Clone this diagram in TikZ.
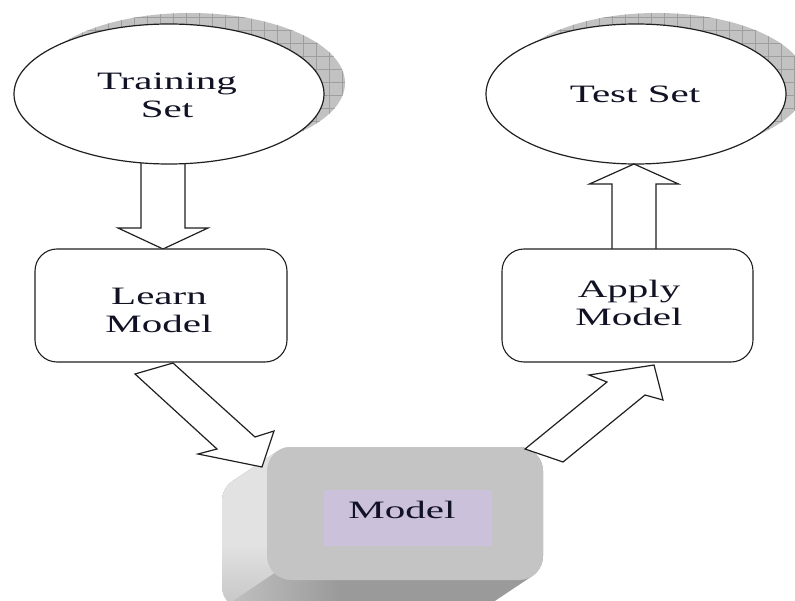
\documentclass[tikz,border=0pt]{standalone}
\usepackage{fontspec}
\setmainfont{Liberation Serif}
\usetikzlibrary{calc,shapes.geometric}
\definecolor{shadowc}{HTML}{C2C2C2}
\definecolor{gridc}{HTML}{9E9E9E}
\definecolor{frontc}{HTML}{C4C4C4}
\definecolor{sidec}{HTML}{E2E2E2}
\definecolor{bottomc}{HTML}{9A9A9A}
\definecolor{innerc}{HTML}{CBC1DA}
\definecolor{txtc}{HTML}{121225}
\definecolor{linec}{HTML}{202020}
\tikzset{
  lbl/.style={font=\fontsize{25}{28}\selectfont, text=txtc, xscale=1.64, align=center, inner sep=0pt},
  setell/.style={ellipse, draw=linec, line width=1.2pt, fill=white, inner sep=0pt},
  rbox/.style={rectangle, rounded corners=22pt, draw=linec, line width=1.1pt, fill=white, inner sep=0pt},
  barrow/.style={draw=linec, line width=1.2pt, fill=white, line join=miter},
  shadowgrid/.style={gridc, line width=0.5pt}
}
\newcommand\blockarrow[5]{%
  \coordinate (ba-h) at ($(#2)!#5!(#1)$);
  \draw[barrow] ($(#1)!#3!90:(#2)$) -- ($(ba-h)!#3!90:(#2)$) -- ($(ba-h)!#4!90:(#2)$)
    -- (#2) -- ($(ba-h)!#4!-90:(#2)$) -- ($(ba-h)!#3!-90:(#2)$) -- ($(#1)!#3!-90:(#2)$) -- cycle;}
\begin{document}
\begin{tikzpicture}[x=1pt,y=-1pt]
\useasboundingbox (0,0) rectangle (795,601);
\clip (0,0) rectangle (795,601);

% hatched shadows of the two ellipses
\begin{scope}
  \clip (190,83) ellipse [x radius=155, y radius=70];
  \fill[shadowc] (0,0) rectangle (400,200);
  \foreach \x in {4,17,...,400} \draw[shadowgrid] (\x,0) -- (\x,200);
  \foreach \y in {4,17,...,200} \draw[shadowgrid] (0,\y) -- (400,\y);
\end{scope}
\begin{scope}
  \clip (657,83) ellipse [x radius=150, y radius=70];
  \fill[shadowc] (400,0) rectangle (795,200);
  \foreach \x in {404,417,...,795} \draw[shadowgrid] (\x,0) -- (\x,200);
  \foreach \y in {4,17,...,200} \draw[shadowgrid] (400,\y) -- (795,\y);
\end{scope}

% arrow Training Set -> Learn Model
\coordinate (d1s) at (163,158);
\coordinate (d1e) at (163,249);
\blockarrow{d1s}{d1e}{22pt}{45pt}{21pt}

% ellipses
\node[setell, minimum width=310pt, minimum height=140pt] (train) at (169,94) {};
\node[lbl] (trainlbl) at (167,95) {Training\\Set};
\node[setell, minimum width=300pt, minimum height=140pt] (test) at (636,94) {};
\node[lbl] (testlbl) at (635,94) {Test Set};

% arrow Apply Model -> Test Set
\coordinate (u1s) at (634,256);
\coordinate (u1e) at (634,164);
\blockarrow{u1s}{u1e}{22pt}{44.5pt}{20pt}

% rounded boxes
\node[rbox, minimum width=252pt, minimum height=113pt] (learn) at (161,305.5) {};
\node[lbl] (learnlbl) at (159,310) {Learn\\Model};
\node[rbox, minimum width=251pt, minimum height=113pt] (apply) at (627.5,305.5) {};
\node[lbl] (applylbl) at (629,303) {Apply\\Model};

% 3D model block: extruded side and bottom faces
\begin{scope}
  \clip (291,447) -- (519,447) arc[start angle=-90, end angle=0, radius=24]
    -- (543,556) arc[start angle=0, end angle=56.3, radius=24]
    -- (487.3,606) arc[start angle=56.3, end angle=90, radius=24]
    -- (246,610) arc[start angle=90, end angle=180, radius=24]
    -- (222,501) arc[start angle=180, end angle=236.3, radius=24]
    -- (277.7,451) arc[start angle=236.3, end angle=270, radius=24] -- cycle;
  \fill[bottomc] (200,440) rectangle (560,620);
  \shade[left color=sidec!60!bottomc, right color=bottomc] (215,560) rectangle (340,620);
  \begin{scope}
    \clip (150,400) -- (420,400) -- (420,475.7) -- (274,573) -- (150,655.7) -- cycle;
    \fill[sidec] (200,440) rectangle (300,620);
    \shade[top color=sidec, bottom color=sidec!55!bottomc] (200,545) rectangle (300,615);
  \end{scope}
\end{scope}
\node[rectangle, rounded corners=24pt, fill=frontc, minimum width=276pt, minimum height=133pt, inner sep=0pt] (model) at (405,513.5) {};
\node[rectangle, fill=innerc, minimum width=168pt, minimum height=56pt, inner sep=0pt] (modelin) at (408,518) {};
\node[lbl] (modellbl) at (402,510) {Model};

% diagonal arrows Learn Model -> Model -> Apply Model
\coordinate (a1s) at (154,368.5);
\coordinate (a1e) at (262,467);
\draw[barrow] (135,374) -- (217,449) -- (198,454) -- (a1e) -- (274,431) -- (255,437) -- (173,363) -- cycle;
\coordinate (a2s) at (544,455.5);
\coordinate (a2e) at (654,365);
\draw[barrow] (525,449) -- (607,382) -- (589,375) -- (a2e) -- (663,400) -- (645,395) -- (563,462) -- cycle;
\end{tikzpicture}
\end{document}
